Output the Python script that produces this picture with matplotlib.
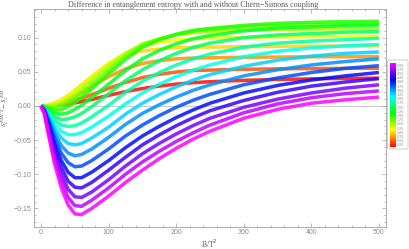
import colorsys

import matplotlib
matplotlib.use("Agg")
import matplotlib.pyplot as plt
import numpy as np
from matplotlib.colors import ListedColormap
from matplotlib.patches import FancyBboxPatch

# B/T^2 sample points (same for every curve)
b_over_t2 = [0, 5, 10, 20, 30, 40, 50, 60, 75, 100, 125, 150, 175, 200, 225, 250, 300, 350, 400, 450, 500]

# Chern-Simons coupling of each curve
coupling = [0.25, 0.5, 0.75, 1.0, 1.25, 1.5, 1.75, 2.0, 2.25, 2.5,
            2.75, 3.0, 3.25, 3.5, 3.75, 4.0, 4.25, 4.5, 4.75, 5.0]

# S_l^EMCS - S_l^EM, one list per coupling
ds_0p25 = [0, 0, 0.0002, 0.0007, 0.0016, 0.0029, 0.0044, 0.0063, 0.0095, 0.0155, 0.021, 0.0255, 0.0291, 0.032, 0.0341, 0.0355, 0.0375, 0.0388, 0.0397, 0.0403, 0.0408]
ds_0p50 = [0, 0.0001, 0.0004, 0.0014, 0.003, 0.0053, 0.0081, 0.0113, 0.0165, 0.0258, 0.0345, 0.0415, 0.0463, 0.0497, 0.0518, 0.0525, 0.0537, 0.0543, 0.0547, 0.055, 0.0552]
ds_0p75 = [0, 0.0002, 0.0006, 0.0026, 0.0056, 0.0097, 0.0146, 0.0201, 0.0288, 0.0428, 0.0543, 0.0622, 0.0663, 0.069, 0.0702, 0.0705, 0.0712, 0.0716, 0.0719, 0.0721, 0.0722]
ds_1p00 = [0, 0.0003, 0.001, 0.0041, 0.009, 0.0155, 0.0229, 0.0309, 0.043, 0.061, 0.0735, 0.0805, 0.0833, 0.0852, 0.0859, 0.0862, 0.0868, 0.0872, 0.0875, 0.0878, 0.088]
ds_1p25 = [0, 0.0002, 0.0008, 0.0038, 0.0085, 0.015, 0.0225, 0.0305, 0.043, 0.0625, 0.0775, 0.088, 0.093, 0.0965, 0.0982, 0.099, 0.1003, 0.101, 0.1015, 0.102, 0.102]
ds_1p50 = [0, -0.0002, -0.0005, 0.0005, 0.004, 0.0095, 0.0165, 0.0245, 0.037, 0.0575, 0.0765, 0.091, 0.0985, 0.104, 0.1072, 0.109, 0.111, 0.112, 0.1125, 0.113, 0.113]
ds_1p75 = [0, -0.0005, -0.0015, -0.002, 0.0005, 0.005, 0.011, 0.018, 0.031, 0.052, 0.0725, 0.089, 0.0978, 0.1045, 0.1093, 0.112, 0.1158, 0.118, 0.119, 0.1195, 0.12]
ds_2p00 = [0, -0.001, -0.003, -0.006, -0.005, -0.001, 0.005, 0.012, 0.025, 0.047, 0.068, 0.086, 0.0968, 0.105, 0.1106, 0.1135, 0.118, 0.121, 0.1225, 0.1235, 0.124]
ds_2p25 = [0, -0.0015, -0.005, -0.011, -0.012, -0.01, -0.005, 0.001, 0.012, 0.032, 0.052, 0.069, 0.0813, 0.091, 0.0983, 0.103, 0.11, 0.114, 0.116, 0.1175, 0.1185]
ds_2p50 = [0, -0.002, -0.007, -0.016, -0.02, -0.019, -0.016, -0.011, -0.001, 0.018, 0.037, 0.053, 0.0661, 0.077, 0.0856, 0.092, 0.1, 0.104, 0.106, 0.108, 0.109]
ds_2p75 = [0, -0.003, -0.009, -0.021, -0.028, -0.03, -0.029, -0.025, -0.016, 0.001, 0.02, 0.036, 0.049, 0.06, 0.069, 0.076, 0.086, 0.092, 0.095, 0.097, 0.099]
ds_3p00 = [0, -0.004, -0.011, -0.027, -0.037, -0.042, -0.042, -0.039, -0.031, -0.015, 0.003, 0.019, 0.0319, 0.043, 0.0524, 0.06, 0.072, 0.08, 0.085, 0.088, 0.09]
ds_3p25 = [0, -0.0045, -0.0135, -0.033, -0.047, -0.055, -0.057, -0.055, -0.047, -0.031, -0.012, 0.004, 0.0168, 0.028, 0.0378, 0.046, 0.058, 0.067, 0.073, 0.077, 0.079]
ds_3p50 = [0, -0.005, -0.016, -0.04, -0.058, -0.069, -0.073, -0.071, -0.063, -0.046, -0.027, -0.011, 0.0018, 0.013, 0.0228, 0.031, 0.044, 0.053, 0.06, 0.065, 0.069]
ds_3p75 = [0, -0.006, -0.0195, -0.047, -0.069, -0.083, -0.089, -0.088, -0.08, -0.063, -0.044, -0.028, -0.0141, -0.002, 0.0084, 0.017, 0.031, 0.041, 0.049, 0.055, 0.059]
ds_4p00 = [0, -0.007, -0.023, -0.055, -0.08, -0.097, -0.105, -0.105, -0.097, -0.08, -0.061, -0.044, -0.0298, -0.017, -0.0058, 0.004, 0.019, 0.03, 0.038, 0.044, 0.049]
ds_4p25 = [0, -0.008, -0.0265, -0.062, -0.09, -0.11, -0.119, -0.12, -0.112, -0.094, -0.075, -0.057, -0.0423, -0.029, -0.0173, -0.007, 0.008, 0.02, 0.029, 0.035, 0.04]
ds_4p50 = [0, -0.009, -0.03, -0.07, -0.1, -0.122, -0.133, -0.134, -0.126, -0.108, -0.088, -0.07, -0.0548, -0.041, -0.0288, -0.018, -0.002, 0.01, 0.019, 0.026, 0.031]
ds_4p75 = [0, -0.0105, -0.034, -0.078, -0.11, -0.134, -0.146, -0.147, -0.138, -0.12, -0.1, -0.082, -0.0663, -0.052, -0.0393, -0.028, -0.01, 0.003, 0.012, 0.018, 0.022]
ds_5p00 = [0, -0.012, -0.038, -0.085, -0.12, -0.145, -0.158, -0.159, -0.15, -0.132, -0.112, -0.094, -0.0771, -0.062, -0.0486, -0.037, -0.018, -0.005, 0.004, 0.009, 0.013]

curves = [ds_0p25, ds_0p50, ds_0p75, ds_1p00, ds_1p25, ds_1p50, ds_1p75, ds_2p00, ds_2p25, ds_2p50,
          ds_2p75, ds_3p00, ds_3p25, ds_3p50, ds_3p75, ds_4p00, ds_4p25, ds_4p50, ds_4p75, ds_5p00]

legend_labels = ["5.00", "4.75", "4.50", "4.25", "4.00", "3.75", "3.50", "3.25", "3.00", "2.75",
                 "2.50", "2.25", "2.00", "1.75", "1.50", "1.25", "1.00", "0.75", "0.50", "0.25"]

C_MIN, C_MAX, HUE_MAX = 0.2, 5.0, 0.833
GRAY = "#8a8a8a"
TXT = "#5a5a5a"


def hue(c):
    h = HUE_MAX * (c - C_MIN) / (C_MAX - C_MIN)
    return colorsys.hsv_to_rgb(h, 1.0, 1.0)


fig = plt.figure(figsize=(4.09, 2.49), dpi=100)
ax = fig.add_axes([0.0839, 0.0896, 0.859, 0.873])

ax.axhline(0, color="#cccccc", lw=0.8, zorder=0)
for c, ys in zip(coupling, curves):
    ax.plot(b_over_t2, ys, color=hue(c), lw=2.5, alpha=0.85, solid_joinstyle="round",
            solid_capstyle="butt")

ax.set_xlim(-10, 510)
ax.set_ylim(-0.1768, 0.1415)
ax.set_xticks(range(0, 501, 100))
ax.set_xticks(range(0, 511, 20), minor=True)
ax.set_yticks([-0.15, -0.10, -0.05, 0.0, 0.05, 0.10])
ax.set_yticklabels(["\u22120.15", "\u22120.10", "\u22120.05", "0.00", "0.05", "0.10"])
ax.set_yticks(np.arange(-0.17, 0.141, 0.01), minor=True)
for sp in ax.spines.values():
    sp.set_color("#a0a0a0")
    sp.set_linewidth(0.6)
ax.tick_params(which="both", direction="in", top=True, right=True, color="#a0a0a0",
               width=0.5, labelsize=5, labelcolor=GRAY, pad=2)
ax.tick_params(which="major", length=3)
ax.tick_params(which="minor", length=1.5)
for lab in ax.get_xticklabels() + ax.get_yticklabels():
    lab.set_family("Liberation Sans")

fig.text(0.473, 0.981, "Difference in entanglement entropy with and without Chern\u2212Simons coupling",
         ha="center", va="center", fontsize=5.8, family="Liberation Serif", color=TXT)
fig.text(0.513, 0.02, r"B/T$^2$", ha="center", va="center", fontsize=5.5,
         family="Liberation Serif", color=TXT)
plt.rcParams["mathtext.fontset"] = "stix"
fig.text(0.013, 0.567, r"$S_l^{\,EMCS}-S_l^{\,EM}$", ha="center", va="center", rotation=90,
         fontsize=5, color=TXT)

# colour bar legend: light frame behind a hue bar with tiny labels
frame = FancyBboxPatch((387.5 / 409, 1 - 149 / 249), 20.5 / 409, 89 / 249,
                       boxstyle="round,pad=0,rounding_size=0.006",
                       transform=fig.transFigure, fc="white", ec="#c8c8c8", lw=0.6, zorder=-5)
fig.patches.append(frame)
cax = fig.add_axes([389.5 / 409, 1 - 147 / 249, 5.5 / 409, 84 / 249])
cax.set_zorder(5)
cmap = ListedColormap([colorsys.hsv_to_rgb(h, 1, 1) for h in np.linspace(0, HUE_MAX, 256)])
cax.imshow(np.linspace(C_MIN, C_MAX, 256)[:, None], cmap=cmap, aspect="auto", origin="lower",
           extent=(0, 1, 0.125, 5.125))
cax.set_xticks([])
cax.yaxis.tick_right()
vals = [float(s) for s in legend_labels]
cax.set_yticks(vals)
cax.set_yticklabels(legend_labels)
cax.tick_params(axis="y", length=0, pad=1.5, labelsize=2.3, labelcolor=GRAY)
for sp in cax.spines.values():
    sp.set_visible(False)

fig.savefig("out.png", dpi=100)
